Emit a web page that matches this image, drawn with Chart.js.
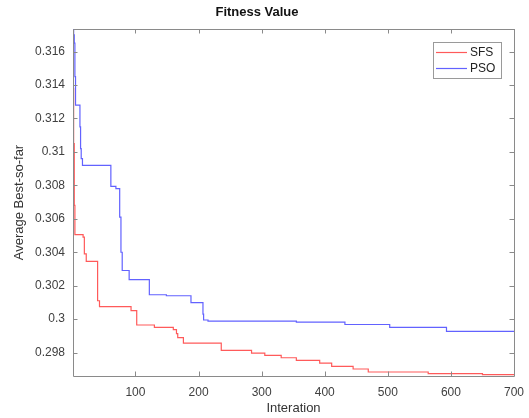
<!DOCTYPE html>
<html>
<head>
<meta charset="utf-8">
<script src="https://cdn.jsdelivr.net/npm/chart.js@4/dist/chart.umd.min.js"></script>
<style>
  html, body { margin: 0; padding: 0; background: #fff; }
  #wrap { width: 529px; height: 418px; }
</style>
</head>
<body>
<div id="wrap"><canvas id="c" width="529" height="418"></canvas></div>
<script>
// ==================== 数据 ====================
// iteration where the best-so-far value changes, and the new value
const sfsIter = [1, 2, 3, 4, 17, 19, 22, 40, 43, 93, 102, 130, 160, 165, 167, 176, 236, 284, 305, 331, 355, 392, 411, 445, 469, 564, 650, 700]
const sfsValue = [0.3138, 0.3105, 0.3068, 0.30505, 0.3049, 0.3039, 0.30345, 0.3011, 0.30075, 0.30051, 0.29965, 0.29951, 0.29937, 0.29913, 0.2989, 0.29857, 0.29813, 0.29797, 0.29783, 0.29769, 0.29753, 0.29737, 0.29718, 0.29702, 0.29684, 0.29674, 0.29668, 0.29665]

const psoIter = [1, 2, 3, 4, 5, 12, 13, 14, 16, 61, 69, 75, 77, 79, 90, 122, 149, 188, 207, 208, 215, 355, 432, 503, 593, 700]
const psoValue = [0.3185, 0.3170, 0.3165, 0.3145, 0.3128, 0.3115, 0.3102, 0.3096, 0.30919, 0.30794, 0.3078, 0.3061, 0.3040, 0.30291, 0.30236, 0.30146, 0.3014, 0.30099, 0.3003, 0.29995, 0.29988, 0.29982, 0.29968, 0.29951, 0.29927, 0.29927]

const xTicks = [100, 200, 300, 400, 500, 600, 700]
const yTicks = [0.298, 0.3, 0.302, 0.304, 0.306, 0.308, 0.31, 0.312, 0.314, 0.316]

const seriesNames = ['SFS', 'PSO']
const seriesColors = ['#ff5a5a', '#6262ff']

const toPoints = (xs, ys) => xs.map((x, i) => ({ x, y: ys[i] }))

// ==================== 坐标框 + 内向刻度 + 图例 ====================
const matlabBox = {
    id: 'matlabBox',
    afterDatasetsDraw(chart) {
        const { ctx, chartArea: a, scales } = chart
        const tl = 4.5
        ctx.save()
        ctx.strokeStyle = '#8a8a8a'
        ctx.lineWidth = 1
        ctx.beginPath()
        ctx.rect(Math.round(a.left) + 0.5, Math.round(a.top) + 0.5, Math.round(a.right - a.left), Math.round(a.bottom - a.top))
        ctx.stroke()

        ctx.beginPath()
        xTicks.forEach(v => {
            const x = Math.round(scales.x.getPixelForValue(v)) + 0.5
            ctx.moveTo(x, a.bottom); ctx.lineTo(x, a.bottom - tl)
            ctx.moveTo(x, a.top); ctx.lineTo(x, a.top + tl)
        })
        yTicks.forEach(v => {
            const y = Math.round(scales.y.getPixelForValue(v)) + 0.5
            ctx.moveTo(a.left, y); ctx.lineTo(a.left + tl, y)
            ctx.moveTo(a.right, y); ctx.lineTo(a.right - tl, y)
        })
        ctx.stroke()

        // legend
        const lx = 433, ly = 42, lw = 68, lh = 36
        ctx.fillStyle = '#fff'
        ctx.fillRect(lx, ly, lw, lh)
        ctx.strokeStyle = '#9a9a9a'
        ctx.strokeRect(lx + 0.5, ly + 0.5, lw, lh)
        ctx.font = '12px "Liberation Sans", Arial, sans-serif'
        ctx.textBaseline = 'middle'
        ctx.textAlign = 'left'
        seriesNames.forEach((name, i) => {
            const y = ly + 10.5 + i * 16
            ctx.strokeStyle = seriesColors[i]
            ctx.lineWidth = 1.2
            ctx.beginPath()
            ctx.moveTo(lx + 3, y); ctx.lineTo(lx + 34, y)
            ctx.stroke()
            ctx.fillStyle = '#222'
            ctx.fillText(name, lx + 37, y + 0.5)
        })
        ctx.restore()
    }
}

const tickFont = { family: '"Liberation Sans", Arial, sans-serif', size: 12 }
const titleFont = { family: '"Liberation Sans", Arial, sans-serif', size: 13 }

new Chart(document.getElementById('c'), {
    type: 'line',
    data: {
        datasets: [
            {
                label: seriesNames[0],
                data: toPoints(sfsIter, sfsValue),
                borderColor: seriesColors[0],
                borderWidth: 1.2,
                pointRadius: 0,
                stepped: 'before',
                fill: false
            },
            {
                label: seriesNames[1],
                data: toPoints(psoIter, psoValue),
                borderColor: seriesColors[1],
                borderWidth: 1.2,
                pointRadius: 0,
                stepped: 'before',
                fill: false
            }
        ]
    },
    options: {
        responsive: false,
        animation: false,
        devicePixelRatio: 1,
        layout: { padding: { left: 0, right: 15, top: 0, bottom: 2 } },
        plugins: {
            legend: { display: false },
            tooltip: { enabled: false },
            title: {
                display: true,
                text: 'Fitness Value',
                color: '#111',
                font: { ...titleFont, weight: 'bold' },
                padding: { top: 5, bottom: 8.4 }
            }
        },
        scales: {
            x: {
                type: 'linear',
                min: 1,
                max: 700,
                afterBuildTicks: (s) => { s.ticks = xTicks.map(v => ({ value: v })) },
                afterFit: (s) => { s.height = 40 },
                grid: { display: false },
                border: { display: false },
                ticks: { color: '#404040', font: tickFont, padding: 1, maxRotation: 0 },
                title: { display: true, text: 'Interation', color: '#333', font: titleFont, padding: { top: 0, bottom: 0 } }
            },
            y: {
                type: 'linear',
                min: 0.2966,
                max: 0.31735,
                afterBuildTicks: (s) => { s.ticks = yTicks.map(v => ({ value: v })) },
                afterFit: (s) => { s.width = 73 },
                grid: { display: false },
                border: { display: false },
                ticks: { color: '#404040', font: tickFont, padding: 0, callback: (v) => String(v) },
                title: { display: true, text: 'Average Best-so-far', color: '#333', font: titleFont, padding: { top: 12, bottom: 0 } }
            }
        }
    },
    plugins: [matlabBox]
})
</script>
</body>
</html>
